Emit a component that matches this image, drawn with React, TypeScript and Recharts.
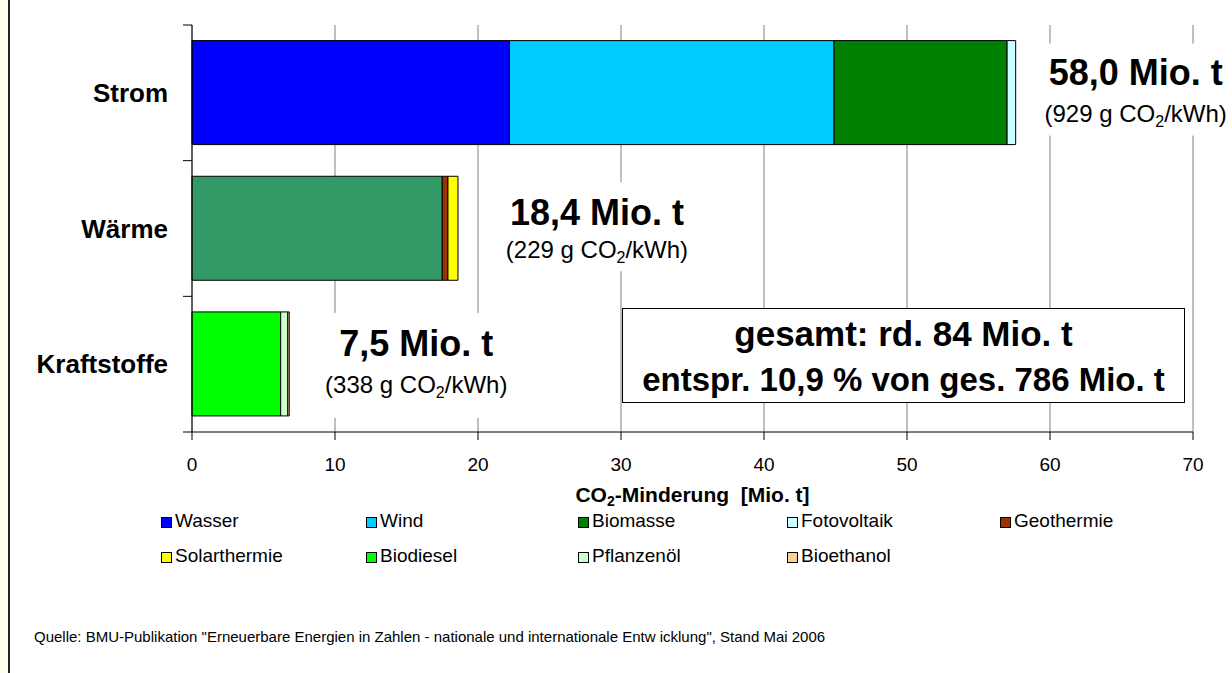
import React from "react";
import { BarChart, Bar, XAxis, YAxis, CartesianGrid, Cell, LabelList } from "recharts";

const categories = ["Strom", "Wärme", "Kraftstoffe"];
const wasser = [22.2, 0, 0];
const wind = [22.7, 0, 0];
const biomasse = [12.1, 17.5, 0];
const fotovoltaik = [0.6, 0, 0];
const geothermie = [0, 0.4, 0];
const solarthermie = [0, 0.7, 0];
const biodiesel = [0, 0, 6.2];
const pflanzenoel = [0, 0, 0.5];
const bioethanol = [0, 0, 0.1];

const totals = ["58,0 Mio. t", "18,4 Mio. t", "7,5 Mio. t"];
const intensities = ["929", "229", "338"];
const xTicks = [0, 10, 20, 30, 40, 50, 60, 70];

const series = [
  { key: "wasser", name: "Wasser", values: wasser, color: "#0000FF" },
  { key: "wind", name: "Wind", values: wind, color: "#00CCFF" },
  { key: "biomasse", name: "Biomasse", values: biomasse, color: "#008000" },
  { key: "fotovoltaik", name: "Fotovoltaik", values: fotovoltaik, color: "#CCFFFF" },
  { key: "geothermie", name: "Geothermie", values: geothermie, color: "#993300" },
  { key: "solarthermie", name: "Solarthermie", values: solarthermie, color: "#FFFF00" },
  { key: "biodiesel", name: "Biodiesel", values: biodiesel, color: "#00FF00" },
  { key: "pflanzenoel", name: "Pflanzenöl", values: pflanzenoel, color: "#CCFFCC" },
  { key: "bioethanol", name: "Bioethanol", values: bioethanol, color: "#FFCC99" },
];
// biomass in the heat row is drawn in a different green
const waermeBiomasse = "#339966";

const data = categories.map((name, i) => {
  const row: any = { name };
  series.forEach((s) => (row[s.key] = s.values[i]));
  return row;
});

// last non-empty segment per row carries the total label
const lastKey = categories.map((_, i) => {
  let k = "";
  series.forEach((s) => {
    if (s.values[i] > 0) k = s.key;
  });
  return k;
});

const FONT = "'Liberation Sans', Arial, sans-serif";

// label placement relative to bar end
const ann = [
  { dx: 120, dy: -8, sub: 29, r0: 25, r1: 217, t0: -49, t1: 43 },
  { dx: 139, dy: -3, sub: 30, r0: 33, r1: 243, t0: -46, t1: 43 },
  { dx: 127, dy: -8, sub: 29, r0: 12, r1: 224, t0: -51, t1: 54 },
];

const makeLabel = (key: string) => (props: any) => {
  const { x, y, width, height, value } = props;
  const index = categories.indexOf(value);
  if (index < 0 || lastKey[index] !== key) return null;
  const xe = Number(x) + Number(width);
  const yc = Number(y) + Number(height) / 2;
  const a = ann[index];
  const cx = xe + a.dx;
  return (
    <g>
      <rect x={xe + a.r0} y={yc + a.t0} width={a.r1 - a.r0} height={a.t1 - a.t0} fill="#fff" />
      <text x={cx} y={yc + a.dy} textAnchor="middle" fontFamily={FONT} fontWeight="bold" fontSize={36} fill="#000">
        {totals[index]}
      </text>
      <text x={cx} y={yc + a.sub} textAnchor="middle" fontFamily={FONT} fontSize={24} fill="#000">
        ({intensities[index]} g CO<tspan dy={5} fontSize={16}>2</tspan>
        <tspan dy={-5}>/kWh)</tspan>
      </text>
    </g>
  );
};

const CategoryTick = (props: any) => {
  const { x, y, payload, index, visibleTicksCount } = props;
  const off = payload && payload.offset > 0 ? payload.offset : 68;
  const lx = Number(x) + 15;
  return (
    <g>
      <line x1={lx} x2={lx + 9} y1={y - off} y2={y - off} stroke="#000" />
      {index === visibleTicksCount - 1 && (
        <line x1={lx} x2={lx + 9} y1={y + off} y2={y + off} stroke="#000" />
      )}
      <text x={x} y={y} dy={9} textAnchor="end" fontFamily={FONT} fontWeight="bold" fontSize={26} fill="#000">
        {payload.value}
      </text>
    </g>
  );
};

const AxisTitle = (props: any) => {
  const vb = props.viewBox || {};
  const cx = vb.x + vb.width / 2;
  return (
    <text x={cx} y={502} textAnchor="middle" fontFamily={FONT} fontWeight="bold" fontSize={21} fill="#000" style={{ whiteSpace: "pre" }}>
      CO<tspan dy={4} fontSize={14}>2</tspan>
      <tspan dy={-4}>-Minderung  [Mio. t]</tspan>
    </text>
  );
};

const legendCols = [161, 366, 578, 787, 1000];
const legendRows = [510, 545];

export default function App() {
  return (
    <div style={{ position: "relative", width: 1232, height: 673, background: "#fff", overflow: "hidden" }}>
      <style>{`body{margin:0}`}</style>
      <div style={{ position: "absolute", left: 0, top: 0, width: 8, height: 673, background: "#FFFFF0", borderRight: "2px solid #222" }} />
      <BarChart
        width={1232}
        height={673}
        data={data}
        layout="vertical"
        margin={{ top: 25, right: 39, left: 0, bottom: 181 }}
        barCategoryGap="11.5%"
      >
        <CartesianGrid horizontal={false} stroke="#808080" verticalValues={xTicks} />
        <XAxis
          type="number"
          domain={[0, 70]}
          ticks={xTicks}
          interval={0}
          height={60}
          tickSize={8}
          tickMargin={18}
          axisLine={{ stroke: "#000" }}
          tickLine={{ stroke: "#000" }}
          tick={{ fontFamily: FONT, fontSize: 19, fill: "#000" }}
          label={{ content: AxisTitle }}
        />
        <YAxis
          type="category"
          dataKey="name"
          width={192}
          tickSize={0}
          tickMargin={24}
          tickLine={false}
          axisLine={{ stroke: "#000" }}
          tick={CategoryTick}
          interval={0}
        />
        {series.map((s) => (
          <Bar key={s.key} dataKey={s.key} name={s.name} stackId="a" fill={s.color} stroke="#000" strokeWidth={1} isAnimationActive={false}>
            {s.key === "biomasse" &&
              data.map((_, i) => <Cell key={i} fill={i === 1 ? waermeBiomasse : s.color} />)}
            {lastKey.includes(s.key) && <LabelList dataKey="name" content={makeLabel(s.key)} />}
          </Bar>
        ))}
      </BarChart>

      <div
        style={{
          position: "absolute",
          left: 622,
          top: 308,
          width: 561,
          height: 93,
          border: "1.5px solid #000",
          background: "#fff",
          fontFamily: FONT,
          fontWeight: "bold",
          textAlign: "center",
          color: "#000",
        }}
      >
        <div style={{ position: "absolute", left: 0, right: 0, top: 5, fontSize: 35, lineHeight: "40px" }}>gesamt: rd. 84 Mio. t</div>
        <div style={{ position: "absolute", left: 0, right: 0, top: 52, fontSize: 33, lineHeight: "38px" }}>
          entspr. 10,9 % von ges. 786 Mio. t
        </div>
      </div>

      {series.map((s, i) => (
        <div
          key={s.key}
          style={{
            position: "absolute",
            left: legendCols[i % 5],
            top: legendRows[Math.floor(i / 5)],
            height: 22,
            display: "flex",
            alignItems: "center",
            fontFamily: FONT,
            fontSize: 19,
            color: "#000",
            whiteSpace: "nowrap",
          }}
        >
          <span style={{ display: "inline-block", width: 9, height: 9, background: s.color, border: "1px solid #000", marginRight: 3, marginTop: 3 }} />
          {s.name}
        </div>
      ))}

      <div style={{ position: "absolute", left: 34, top: 628, fontFamily: FONT, fontSize: 15, color: "#000", whiteSpace: "pre" }}>
        Quelle: BMU-Publikation "Erneuerbare Energien in Zahlen - nationale und internationale Entw icklung", Stand Mai 2006
      </div>
    </div>
  );
}
